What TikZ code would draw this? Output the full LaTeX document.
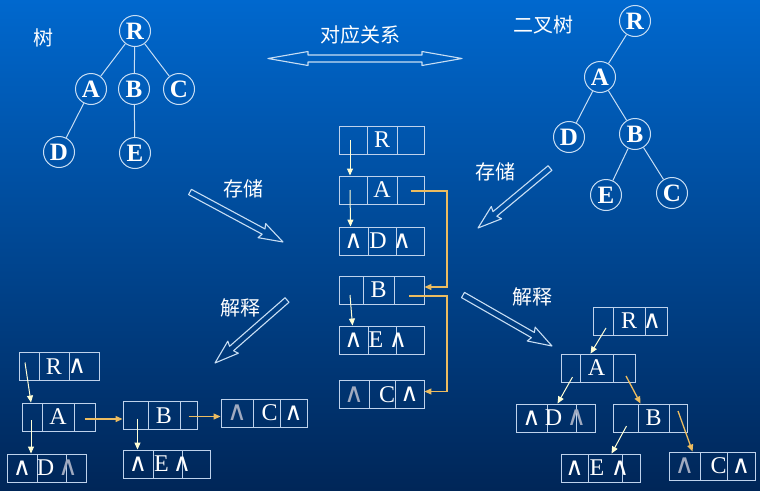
\documentclass[tikz,border=0pt]{standalone}
\usepackage{fontspec}
\setmainfont{Liberation Serif}
\newfontfamily\cjk{Noto Sans CJK SC}
\newfontfamily\symf{DejaVu Sans}
\usetikzlibrary{arrows.meta,calc}
\definecolor{bgtop}{RGB}{0,104,206}
\definecolor{bgmid}{RGB}{0,72,152}
\definecolor{bgbot}{RGB}{0,38,88}
\definecolor{boxc}{RGB}{190,210,236}
\definecolor{circc}{RGB}{200,222,244}
\definecolor{wcol}{RGB}{255,255,214}
\definecolor{ycol}{RGB}{236,188,96}
\definecolor{twc}{RGB}{160,170,192}
\newcommand\bw{{\symf\fontsize{25}{25}\selectfont ∧}}
\newcommand\tw{{\color{twc}\symf\fontsize{27}{27}\selectfont ∧}}
\newcommand\shiftt[2]{\makebox[0pt]{\hspace*{#1pt}#2\hspace*{-#1pt}}}
\tikzset{
  cell/.style={draw=boxc, line width=0.9pt, minimum height=28pt, inner sep=0pt, text=white,
    font=\fontsize{24}{24}\selectfont},
  circ/.style={circle, draw=circc, line width=1pt, minimum size=31pt, inner sep=0pt, text=white,
    font=\bfseries\fontsize{25}{25}\selectfont},
  edge/.style={draw=circc, line width=1pt},
  warr/.style={-{Triangle[width=6pt,length=7pt]}, draw=wcol, line width=1pt},
  yarr/.style={-{Triangle[width=6pt,length=7pt]}, draw=ycol, line width=1.3pt},
  hollow/.style={draw=circc, line width=1.1pt, line join=round},
  lab/.style={text=white, font=\cjk\fontsize{20}{20}\selectfont, inner sep=0pt}
}
\newcommand\cellrow[9]{%
  \node[cell, minimum width={(#3-#2)*1pt}] (#1-1) at ({(#2+#3)/2},#6) {#7};
  \node[cell, minimum width={(#4-#3)*1pt}] (#1-2) at ({(#3+#4)/2},#6) {#8};
  \node[cell, minimum width={(#5-#4)*1pt}] (#1-3) at ({(#4+#5)/2},#6) {#9};}
\newcommand\harrow[4]{%
  \pgfmathsetmacro\hlen{veclen(#3-#1,#4-#2)}%
  \pgfmathsetmacro\hang{atan2(#2-#4,#3-#1)}%
  \begin{scope}[shift={(#1,#2)},rotate=\hang]
    \draw[hollow] (0,-3) -- ({\hlen-22},-3) -- ({\hlen-24},-8) -- (\hlen,0)
      -- ({\hlen-24},8) -- ({\hlen-22},3) -- (0,3) -- cycle;
  \end{scope}}
\begin{document}
\begin{tikzpicture}[x=1pt,y=-1pt]
\useasboundingbox (0,0) rectangle (760,490);
\shade[top color=bgtop, middle color=bgmid, bottom color=bgbot] (0,0) rectangle (760,490);

% ---- tree ----
\node[lab] (ltree) at (43,38) {树};
\node[circ] (tR) at (135,31) {R};
\node[circ] (tA) at (91,89) {A};
\node[circ] (tB) at (134,89) {B};
\node[circ] (tC) at (179,89) {C};
\node[circ] (tD) at (59,152) {D};
\node[circ] (tE) at (135,153) {E};
\draw[edge] (tR) -- (tA);
\draw[edge] (tR) -- (tB);
\draw[edge] (tR) -- (tC);
\draw[edge] (tA) -- (tD);
\draw[edge] (tB) -- (tE);

% ---- binary tree ----
\node[lab] (lbin) at (543,25) {二叉树};
\node[circ] (bR) at (635,21) {R};
\node[circ] (bA) at (600,77) {A};
\node[circ] (bD) at (569,137) {D};
\node[circ] (bB) at (635,134) {B};
\node[circ] (bE) at (606,195) {E};
\node[circ] (bC) at (672,193) {C};
\draw[edge] (bR) -- (bA);
\draw[edge] (bA) -- (bD);
\draw[edge] (bA) -- (bB);
\draw[edge] (bB) -- (bE);
\draw[edge] (bB) -- (bC);

% ---- correspondence ----
\node[lab] (lcor) at (360,35) {对应关系};
\draw[hollow] (268,58.5) -- (308,51.5) -- (308,55) -- (422,55) -- (422,51.5) -- (462,58.5)
  -- (422,65.5) -- (422,62) -- (308,62) -- (308,65.5) -- cycle;

% ---- big hollow arrows ----
\node[lab] (lst1) at (243,189) {存储};
\harrow{190}{192}{283}{242}
\node[lab] (lst2) at (495,172) {存储};
\harrow{550}{168}{478}{228}
\node[lab] (lex1) at (240,308) {解释};
\harrow{287}{300}{215}{363}
\node[lab] (lex2) at (532,297) {解释};
\harrow{463}{295}{552}{346}

% ---- middle storage ----
\cellrow{mR}{339}{367}{397}{424}{140}{}{R}{}
\cellrow{mA}{339}{367}{397}{424}{190}{}{A}{}
\cellrow{mD}{339}{368}{396}{424}{241}{\bw}{\shiftt{-4}{D}}{\shiftt{-8}{\bw}}
\cellrow{mB}{339}{363}{394}{424}{290}{}{B}{}
\cellrow{mE}{339}{368}{396}{424}{340}{\bw}{\shiftt{-6}{E}}{\shiftt{-12}{\bw}}
\cellrow{mC}{339}{369}{395}{424}{394.5}{\tw}{\shiftt{5}{C}}{\bw}
\coordinate (bus) at (447,0);
\draw[warr] ([xshift=-3pt]mR-1.center) -- ([xshift=-3pt]mA-1.north);
\draw[warr] ([xshift=-3pt]mA-1.center) -- ([xshift=-3pt]mD-1.north);
\draw[warr] ([xshift=-1pt,yshift=-5pt]mB-1.center) -- ([xshift=-1pt]mE-1.north);
\draw[yarr] ([yshift=-1pt]mA-3.center) -- ([yshift=-1pt]mA-3.center -| bus)
  -- ([yshift=3pt]mB-3.east -| bus) -- ([yshift=3pt]mB-3.east);
\draw[yarr] ([yshift=-6pt]mB-3.center) -- ([yshift=-6pt]mB-3.center -| bus)
  -- ([yshift=3pt]mC-3.east -| bus) -- ([yshift=3pt]mC-3.east);

% ---- left interpretation ----
\cellrow{lR}{19}{39}{69}{99}{366.5}{}{R}{\shiftt{-7}{\bw}}
\cellrow{lA}{22}{42}{74}{95}{417}{}{A}{}
\cellrow{lB}{123}{148}{180}{197}{415.5}{}{B}{}
\cellrow{lC}{221}{253}{280}{307}{413}{\tw}{\shiftt{3}{C}}{\bw}
\cellrow{lD}{7}{37}{66}{86}{468}{\bw}{\shiftt{-6}{D}}{\shiftt{-8}{\tw}}
\cellrow{lE}{123}{153}{182}{210}{464}{\bw}{\shiftt{-6}{E}}{\shiftt{-14}{\bw}}
\draw[warr] ([shift={(-4,-4)}]lR-1.center) -- ([xshift=-1pt]lA-1.north);
\draw[warr] ([xshift=-1pt,yshift=-3pt]lA-1.center) -- ([xshift=-1pt]lA-1.center |- lD-1.north);
\draw[warr] ([xshift=2pt,yshift=-3pt]lB-1.center) -- ([xshift=2pt]lB-1.center |- lE-1.north);
\draw[yarr] ([yshift=-2pt]lA-3.center) -- ([yshift=-2pt]lA-3.center -| lB-1.west);
\draw[yarr] ([yshift=-1pt]lB-3.center) -- ([yshift=-1pt]lB-3.center -| lC-1.west);

% ---- right interpretation ----
\cellrow{rR}{593}{613}{645}{667}{321}{}{R}{\shiftt{-4}{\bw}}
\cellrow{rA}{561}{580}{613}{635}{368}{}{A}{}
\cellrow{rD}{516}{547}{576}{595}{418}{\bw}{\shiftt{-8}{D}}{\shiftt{-9}{\tw}}
\cellrow{rB}{613}{638}{669}{687}{418}{}{B}{}
\cellrow{rE}{561}{588}{622}{640}{468}{\bw}{\shiftt{-8}{E}}{\shiftt{-11}{\bw}}
\cellrow{rC}{669}{700}{727}{755}{466}{\tw}{\shiftt{5}{C}}{\bw}
\draw[warr] ([shift={(3,7)}]rR-1.center) -- ([xshift=11pt]rA-2.north west);
\draw[warr] ([shift={(2,9)}]rA-1.center) -- ([xshift=11pt]rD-2.north west);
\draw[yarr] ([shift={(2,8)}]rA-3.center) -- ([xshift=3pt]rB-2.north west);
\draw[warr] ([shift={(1,8)}]rB-1.center) -- ([xshift=24pt]rE-2.north west);
\draw[yarr] ([yshift=7pt]rB-3.center) -- ([xshift=24pt]rC-1.north west);
\end{tikzpicture}
\end{document}
